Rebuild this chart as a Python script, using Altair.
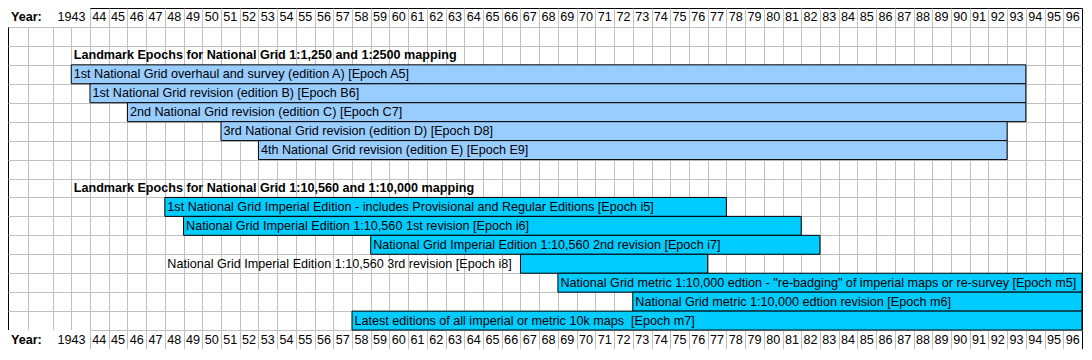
import altair as alt
import pandas as pd

# ---------------- data ----------------
years = list(range(1943, 1997))
year_labels = ["1943"] + [str(y)[2:] for y in years[1:]]
header_word = "Year:"

title_1 = "Landmark Epochs for National Grid 1:1,250 and 1:2500 mapping"
title_2 = "Landmark Epochs for National Grid 1:10,560 and 1:10,000 mapping"

g1_labels = [
    "1st National Grid overhaul and survey (edition A) [Epoch A5]",
    "1st National Grid revision (edition B) [Epoch B6]",
    "2nd National Grid revision (edition C) [Epoch C7]",
    "3rd National Grid revision (edition D) [Epoch D8]",
    "4th National Grid revision (edition E) [Epoch E9]",
]
g1_start = [1943, 1944, 1946, 1951, 1953]
g1_end = [1994, 1994, 1994, 1993, 1993]
g1_label_from = [1943, 1944, 1946, 1951, 1953]

g2_labels = [
    "1st National Grid Imperial Edition - includes Provisional and Regular Editions [Epoch i5]",
    "National Grid Imperial Edition 1:10,560 1st revision [Epoch i6]",
    "National Grid Imperial Edition 1:10,560 2nd revision [Epoch i7]",
    "National Grid Imperial Edition 1:10,560 3rd revision [Epoch i8]",
    "National Grid metric 1:10,000 edtion - \"re-badging\" of imperial maps or re-survey [Epoch m5]",
    "National Grid metric 1:10,000 edtion revision [Epoch m6]",
    "Latest editions of all imperial or metric 10k maps\u00a0 [Epoch m7]",
]
g2_start = [1948, 1949, 1959, 1967, 1969, 1973, 1958]
g2_end = [1978, 1982, 1983, 1977, 1997, 1997, 1997]
g2_label_from = [1948, 1949, 1959, 1948, 1969, 1973, 1958]

group_names = ["1:1,250 / 1:2500", "1:10,560 / 1:10,000"]
group_colors = ["#99CCFF", "#00CCFF"]

# ---------------- sheet layout (spreadsheet columns / rows) ----------------
X_LEFT = 1939.62          # sheet left edge (three narrow columns before 1943)
X_RIGHT = 1997.0          # sheet right edge (end of 1996 column)
extra_col_edges = [1940.71, 1942.02]
N_ROWS = 18

W, H = 1074, 341
FONT = "Liberation Sans"
FS = 12.6

# rows: 0 header, 1 blank, 2 title1, 3-7 group1, 8 blank, 9 title2, 10-16 group2, 17 footer
row_title1 = 2
row_g1 = row_title1 + 1
row_title2 = row_g1 + len(g1_labels) + 1
row_g2 = row_title2 + 1
row_footer = N_ROWS - 1
header_rows = [0, row_footer]

bars = []
for i, (lab, s, e, lf) in enumerate(zip(g1_labels, g1_start, g1_end, g1_label_from)):
    bars.append(dict(label=lab, start=s, end=e, lx=lf, row=row_g1 + i, group=group_names[0]))
for i, (lab, s, e, lf) in enumerate(zip(g2_labels, g2_start, g2_end, g2_label_from)):
    bars.append(dict(label=lab, start=s, end=e, lx=lf, row=row_g2 + i, group=group_names[1]))
bars_df = pd.DataFrame(bars)
bars_df["row2"] = bars_df["row"] + 1
bars_df["mid"] = bars_df["row"] + 0.5

titles_df = pd.DataFrame({
    "text": [title_1, title_2],
    "x": [years[0], years[0]],
    "mid": [row_title1 + 0.5, row_title2 + 0.5],
})

# header: merged cells "Year:" (cols A-B) and "1943" (col C + 1943)
merged_df = pd.DataFrame([
    dict(x0=X_LEFT, x1=extra_col_edges[1], row=r, row2=r + 1) for r in header_rows
] + [
    dict(x0=extra_col_edges[1], x1=years[1], row=r, row2=r + 1) for r in header_rows
])

hdr = []
for r in header_rows:
    for y, lab in zip(years, year_labels):
        cx = (extra_col_edges[1] + years[1]) / 2 if y == years[0] else y + 0.5
        hdr.append(dict(text=lab, x=cx, mid=r + 0.5))
hdr_df = pd.DataFrame(hdr)
word_df = pd.DataFrame({"text": [header_word] * 2, "x": [X_LEFT] * 2,
                        "mid": [r + 0.5 for r in header_rows]})

# ---------------- encodings ----------------
xscale = alt.Scale(domain=[X_LEFT, X_RIGHT], nice=False, zero=False)
yscale = alt.Scale(domain=[0, N_ROWS], reverse=True, nice=False, zero=False)
xaxis = alt.Axis(values=extra_col_edges + years, grid=True, labels=False, ticks=False,
                 domain=False, title=None, gridColor="#C0C0C0", gridWidth=1,
                 gridOpacity=1, orient="top", maxExtent=0, minExtent=0)
yaxis = alt.Axis(values=list(range(1, N_ROWS)), grid=True, labels=False, ticks=False,
                 domain=False, title=None, gridColor="#C0C0C0", gridWidth=1,
                 gridOpacity=1, maxExtent=0, minExtent=0)


def X(f):
    return alt.X(f, type="quantitative", scale=xscale, axis=xaxis)


def Y(f):
    return alt.Y(f, type="quantitative", scale=yscale, axis=yaxis)


merged = alt.Chart(merged_df).mark_rect(fill="white", strokeWidth=0).encode(
    x=X("x0"), x2="x1", y=Y("row"), y2="row2")

bar_rects = alt.Chart(bars_df).mark_rect(stroke="black", strokeWidth=1, opacity=1).encode(
    x=X("start"), x2="end", y=Y("row"), y2="row2",
    color=alt.Color("group:N", scale=alt.Scale(domain=group_names, range=group_colors),
                    legend=None))

bar_text = alt.Chart(bars_df).mark_text(
    align="left", baseline="middle", dx=2.5, font=FONT, fontSize=FS, color="black").encode(
    x=X("lx"), y=Y("mid"), text="label:N")

title_text = alt.Chart(titles_df).mark_text(
    align="left", baseline="middle", dx=2.5, font=FONT, fontSize=FS, fontWeight="bold",
    color="black").encode(x=X("x"), y=Y("mid"), text="text:N")

hdr_text = alt.Chart(hdr_df).mark_text(
    align="center", baseline="middle", font=FONT, fontSize=FS, color="black").encode(
    x=X("x"), y=Y("mid"), text="text:N")

word_text = alt.Chart(word_df).mark_text(
    align="left", baseline="middle", dx=3, font=FONT, fontSize=FS, fontWeight="bold",
    color="black").encode(x=X("x"), y=Y("mid"), text="text:N")

chart = alt.layer(merged, bar_rects, bar_text, title_text, hdr_text, word_text).properties(
    width=W, height=H, padding=0, background="white"
).configure_view(stroke="black", strokeWidth=1)

chart.save("out.html", embed_options={"renderer": "svg", "actions": False})
